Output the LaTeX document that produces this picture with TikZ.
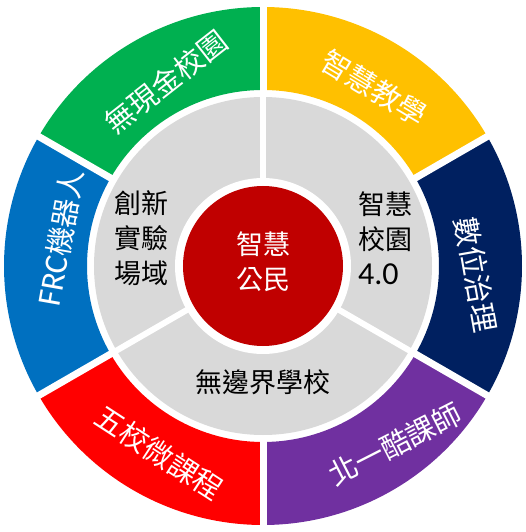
\documentclass[tikz,border=0pt]{standalone}
\usepackage{fontspec}
\setmainfont{Noto Sans CJK TC}
\newfontfamily\latinfont{Carlito}
\usepackage{tikz}
\definecolor{ringgreen}{HTML}{00B050}
\definecolor{ringyellow}{HTML}{FFC000}
\definecolor{ringnavy}{HTML}{002060}
\definecolor{ringpurple}{HTML}{7030A0}
\definecolor{ringred}{HTML}{FF0000}
\definecolor{ringblue}{HTML}{0070C0}
\definecolor{ringgray}{HTML}{D9D9D9}
\definecolor{hubred}{HTML}{C00000}

\begin{document}
\begin{tikzpicture}[x=1pt,y=1pt,
    gap/.style={white,line width=7pt},
    outertext/.style={text=white,inner sep=0pt,font=\fontsize{29}{29}\selectfont},
    innertext/.style={inner sep=0pt,font=\fontsize{27}{35}\selectfont}]
    \useasboundingbox (-263,-266) rectangle (263,266);
    % outer ring of six fields
    \foreach \a/\c in {0/ringnavy,60/ringyellow,120/ringgreen,180/ringblue,240/ringred,300/ringpurple}
    \fill [\c] (\a-30:259) arc [start angle=\a-30, end angle=\a+30, radius=259]
    -- (\a+30:176) arc [start angle=\a+30, end angle=\a-30, radius=176] -- cycle;
    \foreach \a in {30,90,...,330} \draw [gap] (\a:172) -- (\a:263);
    % grey ring and hub
    \fill [ringgray] (0,0) circle (169);
    \fill [white] (0,0) circle (88);
    \foreach \a in {90,210,330} \draw [gap,line width=6pt] (\a:84) -- (\a:170);
    \fill [hubred] (0,0) circle (80);
    % labels
    \node [outertext,rotate=38] (cashless) at (-97,184) {無現金校園};
    \node [outertext,rotate=-31] (teaching) at (111,178) {智慧教學};
    \node [outertext,rotate=-80] (governance) at (213,-9) {數位治理};
    \node [outertext,rotate=27] (coolteacher) at (132,-178) {北一酷課師};
    \node [outertext,rotate=-33] (microcourse) at (-104,-187) {五校微課程};
    \node [outertext,rotate=80] (robot) at (-202,28) {{\latinfont\fontsize{33}{33}\selectfont FRC}機器人};
    \node [innertext,align=center] (lab) at (-121,28) {創新\\實驗\\場域};
    \node [innertext,align=left,anchor=west] (campus) at (95,28) {智慧\\校園\\{\latinfont\fontsize{32}{32}\selectfont 4.0}};
    \node [innertext] (school) at (0,-116) {無邊界學校};
    \node [innertext,align=center,text=white] (citizen) at (0,4) {智慧\\公民};
\end{tikzpicture}
\end{document}
